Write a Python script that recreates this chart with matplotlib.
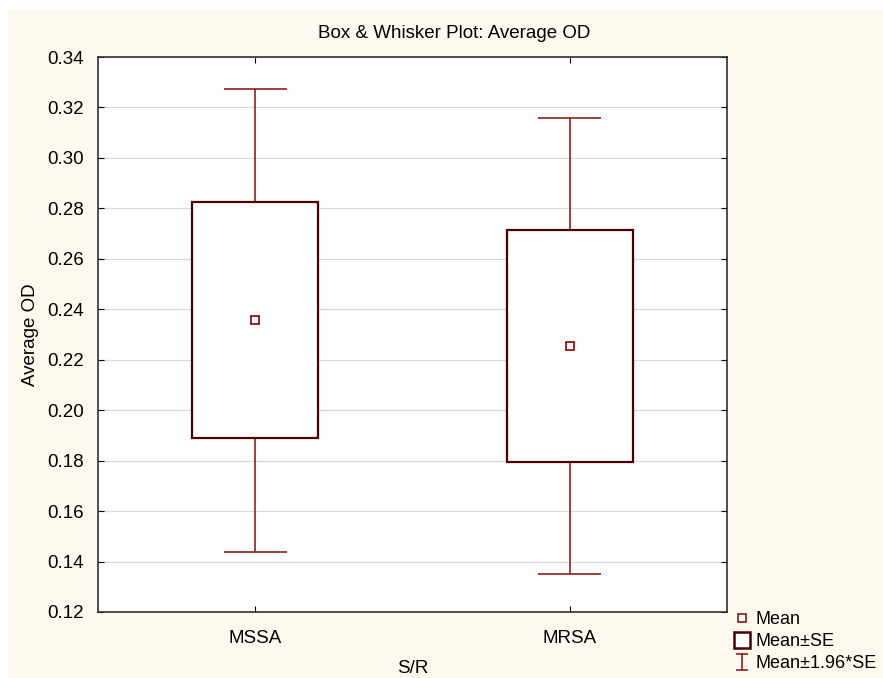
import numpy as np
import matplotlib.pyplot as plt
from matplotlib.lines import Line2D
from matplotlib.patches import Rectangle
from matplotlib.path import Path

plt.rcParams['font.family'] = ['Liberation Sans', 'DejaVu Sans']

# values
groups = ["MSSA", "MRSA"]
means = [0.2357, 0.2254]
se = [0.0468, 0.0461]

box_edge = "#4a0000"
whisk_col = "#8f1f1f"
bg = "#fdf9ee"
fs = 13.5

fig = plt.figure(figsize=(8.83, 6.78), dpi=100, facecolor="white")
fig.add_artist(Rectangle((8 / 883, 0), 1, 1 - 10 / 678, transform=fig.transFigure,
                         facecolor=bg, edgecolor="none", zorder=-10))
ax = fig.add_axes([98 / 883, 1 - 612 / 678, 629 / 883, 555 / 678])
ax.set_facecolor("white")

x = np.arange(len(groups))
m = np.array(means)
s = np.array(se)
lo95, hi95 = m - 1.96 * s, m + 1.96 * s

# whiskers (mean +- 1.96*SE)
ax.vlines(x, lo95, m - s, color=whisk_col, lw=1.2, zorder=2)
ax.vlines(x, m + s, hi95, color=whisk_col, lw=1.2, zorder=2)
ax.hlines(hi95, x - 0.1, x + 0.1, color=whisk_col, lw=1.2, zorder=2)
ax.hlines(lo95, x - 0.1, x + 0.1, color=whisk_col, lw=1.2, zorder=2)

# boxes (mean +- SE)
for xi, mi, si in zip(x, m, s):
    ax.add_patch(Rectangle((xi - 0.2, mi - si), 0.4, 2 * si, facecolor="white",
                           edgecolor=box_edge, lw=1.6, zorder=3))

# means
ax.plot(x, m, ls="none", marker="s", ms=6, mfc="white", mec="#8b0000", mew=1.2, zorder=4)

ax.set_xlim(-0.5, 1.5)
ax.set_ylim(0.12, 0.34)
ax.set_xticks(x)
ax.set_xticklabels(groups)
yt = np.arange(0.12, 0.3401, 0.02)
ax.set_yticks(yt)
ax.set_yticklabels([f"{v:.2f}" for v in yt])
ax.tick_params(direction="in", top=True, right=True, labelsize=fs, length=4)
ax.tick_params(axis="y", pad=10)
ax.tick_params(axis="x", pad=13)
ax.grid(axis="y", color="#d8d8d8", lw=0.9, zorder=0)
ax.set_axisbelow(True)
for sp in ax.spines.values():
    sp.set_color("#303030")
    sp.set_linewidth(1.2)

fig.text(454 / 883, 1 - 33 / 678, "Box & Whisker Plot: Average OD", fontsize=fs,
         ha="center", va="center")
ax.set_ylabel("Average OD", fontsize=fs, labelpad=6)
ax.set_xlabel("S/R", fontsize=fs, labelpad=9)

# legend
ibar = Path([(-0.75, 1), (0.75, 1), (0, 1), (0, -1), (-0.75, -1), (0.75, -1)],
            [Path.MOVETO, Path.LINETO, Path.MOVETO, Path.LINETO, Path.MOVETO, Path.LINETO])
handles = [
    Line2D([], [], ls="none", marker="s", ms=6, mfc="white", mec="#8b0000", mew=1.1),
    Line2D([], [], ls="none", marker="s", ms=12, mfc="white", mec=box_edge, mew=1.8),
    Line2D([], [], ls="none", marker=ibar, ms=12, mfc="none", mec=whisk_col, mew=1.2),
]
fig.legend(handles, ["Mean", "Mean±SE", "Mean±1.96*SE"], loc="upper left",
           bbox_to_anchor=(733 / 883, 1 - 611 / 678), frameon=False, fontsize=13,
           handlelength=1.0, handletextpad=0.25, labelspacing=0.28, borderaxespad=0,
           borderpad=0)

fig.savefig("out.png", dpi=100, facecolor=fig.get_facecolor())
